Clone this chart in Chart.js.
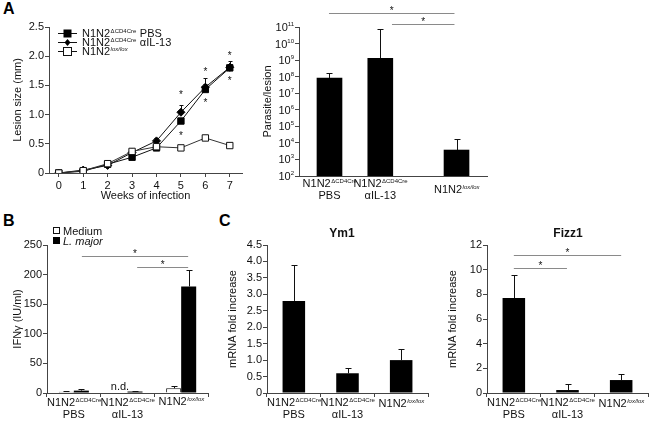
<!DOCTYPE html>
<html>
<head>
<meta charset="utf-8">
<script src="https://cdn.jsdelivr.net/npm/chart.js@4.4.1/dist/chart.umd.min.js"></script>
<style>
  body { margin: 0; background: #fff; width: 651px; height: 422px; position: relative; overflow: hidden; }
  canvas { position: absolute; }
  .lt { position: absolute; font: bold 16px "Liberation Sans", Arial, sans-serif; line-height: 16px; color: #000; }
</style>
</head>
<body>
<div class="lt" style="left:3px;top:1px">A</div>
<div class="lt" style="left:3px;top:213px">B</div>
<div class="lt" style="left:219px;top:213px">C</div>
<canvas id="cLesion" width="250" height="210" style="left:0;top:0"></canvas>
<canvas id="cPar" width="250" height="210" style="left:250px;top:0"></canvas>
<canvas id="cIfn" width="215" height="207" style="left:0;top:215px"></canvas>
<canvas id="cYm1" width="220" height="207" style="left:215px;top:215px"></canvas>
<canvas id="cFizz" width="216" height="207" style="left:435px;top:215px"></canvas>
<script>
// --- data ---
const weeks = [0, 1, 2, 3, 4, 5, 6, 7];
const lesionPBS  = [0, 0.03, 0.15, 0.27, 0.43, 0.89, 1.43, 1.80];
const lesionIL13 = [0, 0.05, 0.13, 0.35, 0.55, 1.04, 1.47, 1.81];
const lesionLox  = [0, 0.04, 0.16, 0.37, 0.45, 0.43, 0.60, 0.47];
const lesionPBSHi  = [0.01, 0.05, 0.17, 0.30, 0.47, 0.95, 1.52, 1.86];
const lesionIL13Hi = [0.01, 0.09, 0.16, 0.39, 0.60, 1.16, 1.63, 1.92];
const lesionLoxHi  = [0.02, 0.07, 0.18, 0.40, 0.48, 0.46, 0.64, 0.50];
const lesionStars = [[5, 1.37], [5, 0.68], [6, 1.78], [6, 1.25], [7, 2.05], [7, 1.61]];
const lesionTicks = [0, 0.5, 1.0, 1.5, 2.0, 2.5];

const groupSup = ['ΔCD4Cre', 'ΔCD4Cre', 'lox/lox'];
const groupLine2 = ['PBS', 'αIL-13', ''];

const parasitePos = [0.6, 1.6, 3.1];
const parasites   = [8.3e7, 1.3e9, 3.7e3];
const parasitesHi = [1.6e8, 7.5e10, 1.7e4];
const logExponents = [2, 3, 4, 5, 6, 7, 8, 9, 10, 11];
const parasiteSig = [[0.59, 3.06, 11.85], [1.83, 3.06, 11.18]]; // from, to, log10 height

const ifnMedium   = [2, null, 8];
const ifnMediumHi = [3.5, null, 11.5];
const ifnMajor    = [4, 2.5, 180];
const ifnMajorHi  = [7.5, 4, 207];
const ifnSig = [[0.15, 2.13, 231], [1.18, 2.13, 213]];

const ym1   = [2.8, 0.6, 1.0];
const ym1Hi = [3.9, 0.76, 1.35];
const fizz1   = [7.7, 0.24, 1.05];
const fizz1Hi = [9.6, 0.7, 1.55];
const fizzSig = [[0, 2.0, 11.2], [0, 0.99, 10.1]];

// --- shared look ---
const FONT = '"Liberation Sans", Arial, sans-serif';
const AXIS = '#444';
Chart.defaults.font.family = FONT;
Chart.defaults.font.size = 11;
Chart.defaults.color = '#111';
Chart.defaults.animation = false;
Chart.defaults.plugins.legend.display = false;
Chart.defaults.plugins.tooltip.enabled = false;

function axisBase(size, horiz) {
  return {
    border: { display: true, color: AXIS, width: 1 },
    grid: { display: true, drawOnChartArea: false, drawTicks: true, tickLength: 4, tickColor: AXIS },
    afterFit: s => { if (horiz) s.height = size; else s.width = size; }
  };
}
function yTitle(text) {
  return { display: true, text: text, font: { size: 11 }, color: '#111', padding: { top: 11, bottom: 0 } };
}

function star(ctx, x, cy) {
  ctx.save();
  ctx.font = '10px ' + FONT;
  ctx.fillStyle = '#111';
  ctx.textAlign = 'center';
  ctx.textBaseline = 'alphabetic';
  ctx.fillText('*', x, cy + 5.5);
  ctx.restore();
}

function supLabel(ctx, cx, base, sup, line2) {
  ctx.save();
  ctx.fillStyle = '#111';
  ctx.textBaseline = 'alphabetic';
  ctx.font = '11px ' + FONT;
  const w1 = ctx.measureText('N1N2').width;
  const supFont = (sup === 'lox/lox' ? 'italic ' : '') + '6px ' + FONT;
  ctx.font = supFont;
  const w2 = ctx.measureText(sup).width;
  const x0 = cx - (w1 + w2) / 2;
  ctx.textAlign = 'left';
  ctx.font = '11px ' + FONT;
  ctx.fillText('N1N2', x0, base);
  ctx.font = supFont;
  ctx.fillText(sup, x0 + w1 + 0.5, base - 4);
  if (line2) {
    ctx.font = '11px ' + FONT;
    ctx.textAlign = 'center';
    ctx.fillText(line2, cx, base + 12);
  }
  ctx.restore();
}

function errLine(ctx, x, yFrom, yTo, cap) {
  const px = Math.round(x) + 0.5;
  const py = Math.round(yTo) + 0.5;
  ctx.beginPath();
  ctx.moveTo(px, yFrom);
  ctx.lineTo(px, py);
  ctx.moveTo(px - cap, py);
  ctx.lineTo(px + cap, py);
  ctx.stroke();
}

function barErrors(chart, dsIndex, highs) {
  const ctx = chart.ctx, y = chart.scales.y;
  ctx.save();
  ctx.strokeStyle = '#111';
  ctx.lineWidth = 1;
  chart.getDatasetMeta(dsIndex).data.forEach((bar, i) => {
    if (highs[i] == null || bar.y == null || isNaN(bar.y)) return;
    errLine(ctx, bar.x, bar.y, y.getPixelForValue(highs[i]), 3);
  });
  ctx.restore();
}

function sigLines(chart, lines, yOf) {
  const ctx = chart.ctx, x = chart.scales.x;
  ctx.save();
  ctx.strokeStyle = '#8a8a8a';
  ctx.lineWidth = 1;
  lines.forEach(l => {
    const x1 = x.getPixelForValue(l[0]), x2 = x.getPixelForValue(l[1]);
    const yy = Math.round(yOf(l[2])) + 0.5;
    ctx.beginPath();
    ctx.moveTo(x1, yy);
    ctx.lineTo(x2, yy);
    ctx.stroke();
    star(ctx, (x1 + x2) / 2, yy - 5);
  });
  ctx.restore();
}

function catLabels(chart, positions, base, loxBase) {
  const x = chart.scales.x;
  positions.forEach((p, i) => {
    const b = groupSup[i] === 'lox/lox' ? loxBase : base;
    supLabel(chart.ctx, x.getPixelForValue(p), b, groupSup[i], groupLine2[i]);
  });
}

// --- A: lesion size ---
const lesionPlugin = {
  id: 'lesionExtras',
  beforeDatasetsDraw(chart) {
    const ctx = chart.ctx, x = chart.scales.x, y = chart.scales.y;
    ctx.save();
    ctx.strokeStyle = '#111';
    [[lesionLox, lesionLoxHi], [lesionPBS, lesionPBSHi], [lesionIL13, lesionIL13Hi]].forEach(pair => {
      weeks.forEach((w, i) => errLine(ctx, x.getPixelForValue(w), y.getPixelForValue(pair[0][i]), y.getPixelForValue(pair[1][i]), 2));
    });
    ctx.restore();
  },
  afterDraw(chart) {
    const ctx = chart.ctx, x = chart.scales.x, y = chart.scales.y;
    lesionStars.forEach(s => star(ctx, x.getPixelForValue(s[0]), y.getPixelForValue(s[1])));
    // legend
    const rows = [
      { sup: 'ΔCD4Cre', tail: ' PBS', mark: 'sq', cy: 33 },
      { sup: 'ΔCD4Cre', tail: ' αIL-13', mark: 'dia', cy: 42 },
      { sup: 'lox/lox', tail: '', mark: 'open', cy: 51 }
    ];
    ctx.save();
    rows.forEach(r => {
      ctx.strokeStyle = '#111';
      ctx.lineWidth = 1;
      ctx.beginPath();
      ctx.moveTo(58, r.cy + 0.5);
      ctx.lineTo(77, r.cy + 0.5);
      ctx.stroke();
      if (r.mark === 'sq') { ctx.fillStyle = '#000'; ctx.fillRect(63.5, r.cy - 3.5, 8, 8); }
      if (r.mark === 'dia') {
        ctx.fillStyle = '#000';
        ctx.beginPath();
        ctx.moveTo(67.5, r.cy - 3); ctx.lineTo(70.5, r.cy + 0.5); ctx.lineTo(67.5, r.cy + 4); ctx.lineTo(64.5, r.cy + 0.5);
        ctx.closePath(); ctx.fill();
      }
      if (r.mark === 'open') { ctx.fillStyle = '#fff'; ctx.fillRect(63.5, r.cy - 3.5, 8, 8); ctx.strokeRect(63.5, r.cy - 3.5, 8, 8); }
      ctx.fillStyle = '#111';
      ctx.textAlign = 'left';
      ctx.textBaseline = 'alphabetic';
      ctx.font = '11px ' + FONT;
      const w1 = ctx.measureText('N1N2').width;
      ctx.fillText('N1N2', 82, r.cy + 4);
      ctx.font = (r.sup === 'lox/lox' ? 'italic ' : '') + '6px ' + FONT;
      const w2 = ctx.measureText(r.sup).width;
      ctx.fillText(r.sup, 82 + w1 + 0.5, r.cy);
      ctx.font = '11px ' + FONT;
      ctx.fillText(r.tail, 82 + w1 + w2 + 1, r.cy + 4);
    });
    ctx.restore();
  }
};

new Chart(document.getElementById('cLesion'), {
  type: 'line',
  data: {
    datasets: [
      { data: weeks.map((w, i) => ({ x: w, y: lesionLox[i] })), borderColor: '#333', borderWidth: 1,
        pointStyle: 'rect', pointRadius: 4.5, pointBackgroundColor: '#fff', pointBorderColor: '#111', pointBorderWidth: 1 },
      { data: weeks.map((w, i) => ({ x: w, y: lesionPBS[i] })), borderColor: '#111', borderWidth: 1,
        pointStyle: 'rect', pointRadius: 4.5, pointBackgroundColor: '#000', pointBorderColor: '#000' },
      { data: weeks.map((w, i) => ({ x: w, y: lesionIL13[i] })), borderColor: '#111', borderWidth: 1,
        pointStyle: 'rectRot', pointRadius: 4, pointBackgroundColor: '#000', pointBorderColor: '#000' }
    ]
  },
  options: {
    responsive: false,
    layout: { padding: { left: 0, top: 27, right: 8, bottom: 0 } },
    scales: {
      x: Object.assign(axisBase(37, true), {
        type: 'linear', min: -0.4, max: 7.5,
        afterBuildTicks: s => { s.ticks = weeks.map(v => ({ value: v })); },
        ticks: { padding: 2, maxRotation: 0, color: '#111' },
        title: { display: true, text: 'Weeks of infection', font: { size: 11 }, color: '#111', padding: { top: 0, bottom: 7 } }
      }),
      y: Object.assign(axisBase(49, false), {
        min: 0, max: 2.5,
        afterBuildTicks: s => { s.ticks = lesionTicks.map(v => ({ value: v })); },
        ticks: { padding: 1, color: '#111', callback: v => v === 0 ? '0' : Number(v).toFixed(1) },
        title: yTitle('Lesion size (mm)')
      })
    }
  },
  plugins: [lesionPlugin]
});

// --- A: parasites per lesion (log) ---
new Chart(document.getElementById('cPar'), {
  type: 'bar',
  data: {
    datasets: [{ data: parasitePos.map((p, i) => ({ x: p, y: parasites[i] })), backgroundColor: '#000', barThickness: 25 }]
  },
  options: {
    responsive: false,
    layout: { padding: { left: 0, top: 27, right: 13, bottom: 0 } },
    scales: {
      x: Object.assign(axisBase(34, true), {
        type: 'linear', min: 0, max: 3.7, offset: false,
        grid: { display: false, offset: false },
        ticks: { display: false }
      }),
      y: Object.assign(axisBase(49, false), {
        type: 'logarithmic', min: 100, max: 1e11,
        afterBuildTicks: s => { s.ticks = logExponents.map(k => ({ value: Math.pow(10, k) })); },
        ticks: { display: false },
        title: yTitle('Parasite/lesion')
      })
    }
  },
  plugins: [{
    id: 'parExtras',
    afterDraw(chart) {
      const ctx = chart.ctx, y = chart.scales.y;
      barErrors(chart, 0, parasitesHi);
      sigLines(chart, parasiteSig, v => y.getPixelForValue(Math.pow(10, v)));
      catLabels(chart, parasitePos, 187, 193);
      ctx.save();
      ctx.fillStyle = '#111';
      ctx.textBaseline = 'alphabetic';
      logExponents.forEach(k => {
        const py = y.getPixelForValue(Math.pow(10, k));
        ctx.font = '6px ' + FONT;
        const ws = ctx.measureText(String(k)).width;
        ctx.font = '11px ' + FONT;
        const w = ctx.measureText('10').width;
        const right = chart.chartArea.left - 5;
        ctx.textAlign = 'left';
        ctx.fillText('10', right - ws - w, py + 4);
        ctx.font = '6px ' + FONT;
        ctx.fillText(String(k), right - ws, py - 1);
      });
      ctx.restore();
    }
  }]
});

// --- B: IFNγ ---
new Chart(document.getElementById('cIfn'), {
  type: 'bar',
  data: {
    labels: ['PBS', 'aIL-13', 'lox'],
    datasets: [
      { data: ifnMedium, backgroundColor: '#fff', borderColor: '#111', borderWidth: 1, categoryPercentage: 0.56, barPercentage: 1 },
      { data: ifnMajor, backgroundColor: '#000', borderColor: '#000', categoryPercentage: 0.56, barPercentage: 1 }
    ]
  },
  options: {
    responsive: false,
    layout: { padding: { left: 0, top: 30, right: 7, bottom: 0 } },
    scales: {
      x: Object.assign(axisBase(29, true), { ticks: { display: false } }),
      y: Object.assign(axisBase(47, false), {
        min: 0, max: 250,
        ticks: { stepSize: 50, padding: 1, color: '#111' },
        title: yTitle('IFNγ (IU/ml)')
      })
    }
  },
  plugins: [{
    id: 'ifnExtras',
    afterDraw(chart) {
      const ctx = chart.ctx, y = chart.scales.y, x = chart.scales.x;
      barErrors(chart, 0, ifnMediumHi);
      barErrors(chart, 1, ifnMajorHi);
      sigLines(chart, ifnSig, v => y.getPixelForValue(v));
      catLabels(chart, [0, 1, 2], 191, 190);
      ctx.save();
      ctx.fillStyle = '#111';
      ctx.font = '11px ' + FONT;
      ctx.textAlign = 'center';
      ctx.fillText('n.d.', x.getPixelForValue(0.86), chart.chartArea.bottom - 3);
      // legend
      ctx.strokeStyle = '#111';
      ctx.fillStyle = '#fff';
      ctx.fillRect(53.5, 12.5, 6, 6);
      ctx.strokeRect(53.5, 12.5, 6, 6);
      ctx.fillStyle = '#000';
      ctx.fillRect(53, 22, 7, 7);
      ctx.fillStyle = '#111';
      ctx.textAlign = 'left';
      ctx.fillText('Medium', 63, 20);
      ctx.font = 'italic 11px ' + FONT;
      ctx.fillText('L. major', 63, 30);
      ctx.restore();
    }
  }]
});

// --- C: Ym1 and Fizz1 ---
function foldChart(id, values, highs, max, step, fmt, title, titleX, sig) {
  new Chart(document.getElementById(id), {
    type: 'bar',
    data: {
      labels: ['PBS', 'aIL-13', 'lox'],
      datasets: [{ data: values, backgroundColor: '#000', categoryPercentage: 0.42, barPercentage: 1 }]
    },
    options: {
      responsive: false,
      layout: { padding: { left: 0, top: 30, right: id === 'cYm1' ? 7 : 3, bottom: 0 } },
      scales: {
        x: Object.assign(axisBase(29, true), { ticks: { display: false } }),
        y: Object.assign(axisBase(52, false), {
          min: 0, max: max,
          ticks: { stepSize: step, padding: 1, color: '#111', callback: fmt },
          title: yTitle('mRNA fold increase')
        })
      }
    },
    plugins: [{
      id: id + 'Extras',
      afterDraw(chart) {
        const ctx = chart.ctx, y = chart.scales.y;
        barErrors(chart, 0, highs);
        if (sig) sigLines(chart, sig, v => y.getPixelForValue(v));
        catLabels(chart, [0, 1, 2], 191, 192);
        ctx.save();
        ctx.fillStyle = '#111';
        ctx.font = 'bold 12px ' + FONT;
        ctx.textAlign = 'center';
        ctx.fillText(title, titleX, 22);
        ctx.restore();
      }
    }]
  });
}
foldChart('cYm1', ym1, ym1Hi, 4.5, 0.5, v => v === 0 ? '0' : Number(v).toFixed(1), 'Ym1', 127, null);
foldChart('cFizz', fizz1, fizz1Hi, 12, 2, v => String(v), 'Fizz1', 133, fizzSig);
</script>
</body>
</html>
